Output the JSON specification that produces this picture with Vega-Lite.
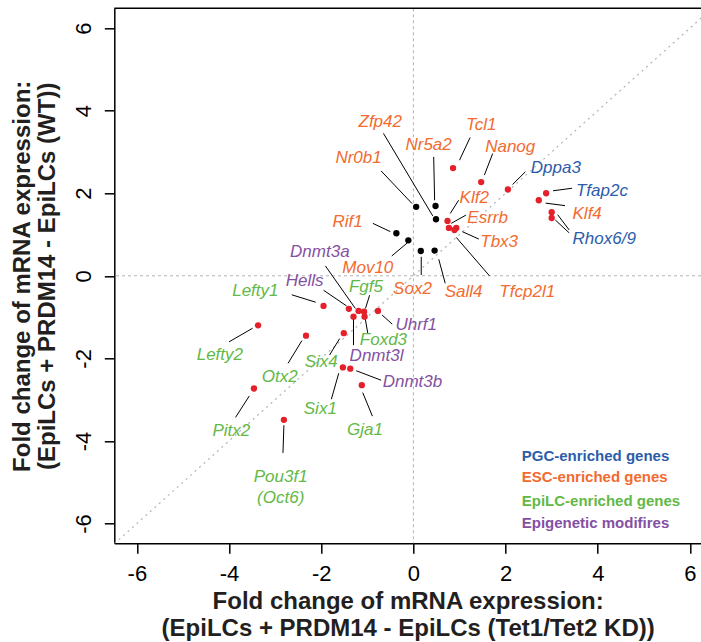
{
  "$schema": "https://vega.github.io/schema/vega-lite/v6.json",
  "width": 586.7,
  "height": 535,
  "autosize": {"type": "none"},
  "padding": {"left": 114.3, "top": 8.3, "right": 0, "bottom": 98.7},
  "background": "white",
  "config": {
    "view": {"stroke": null},
    "font": "Liberation Sans",
    "axis": {
      "grid": false,
      "domainColor": "black",
      "domainWidth": 1.5,
      "tickColor": "black",
      "tickWidth": 1.5,
      "tickSize": 10,
      "labelFont": "Liberation Sans",
      "labelFontSize": 22,
      "labelColor": "black",
      "titleFont": "Liberation Sans",
      "titleFontSize": 24,
      "titleFontWeight": "bold",
      "titleColor": "#231f20"
    }
  },
  "datasets": {
    "refs": [
      {"x": -6.49, "y": -6.49, "x2": 6.48, "y2": 6.48}
    ],
    "points": [
      {"gene": "Tcl1", "x": 0.86, "y": 2.61, "highlight": "yes"},
      {"gene": "Nanog", "x": 1.47, "y": 2.27, "highlight": "yes"},
      {"gene": "Dppa3", "x": 2.05, "y": 2.09, "highlight": "yes"},
      {"gene": "Nr0b1", "x": 0.06, "y": 1.67, "highlight": "no"},
      {"gene": "Nr5a2", "x": 0.48, "y": 1.69, "highlight": "no"},
      {"gene": "Zfp42", "x": 0.49, "y": 1.37, "highlight": "no"},
      {"gene": "Klf2", "x": 0.74, "y": 1.33, "highlight": "yes"},
      {"gene": "Esrrb", "x": 0.77, "y": 1.16, "highlight": "yes"},
      {"gene": "Tbx3", "x": 0.93, "y": 1.16, "highlight": "yes"},
      {"gene": "Tfcp2l1", "x": 0.89, "y": 1.11, "highlight": "yes"},
      {"gene": "Rif1", "x": -0.37, "y": 1.03, "highlight": "no"},
      {"gene": "Mov10", "x": -0.11, "y": 0.86, "highlight": "no"},
      {"gene": "Sox2", "x": 0.16, "y": 0.6, "highlight": "no"},
      {"gene": "Sall4", "x": 0.46, "y": 0.61, "highlight": "no"},
      {"gene": "Tfap2c", "x": 2.88, "y": 2.0, "highlight": "yes"},
      {"gene": "Klf4", "x": 2.72, "y": 1.83, "highlight": "yes"},
      {"gene": "Rhox6", "x": 3.0, "y": 1.54, "highlight": "yes"},
      {"gene": "Rhox9", "x": 3.0, "y": 1.4, "highlight": "yes"},
      {"gene": "Lefty1", "x": -1.95, "y": -0.73, "highlight": "yes"},
      {"gene": "Hells", "x": -1.4, "y": -0.8, "highlight": "yes"},
      {"gene": "Dnmt3a", "x": -1.19, "y": -0.85, "highlight": "yes"},
      {"gene": "Fgf5", "x": -1.07, "y": -0.87, "highlight": "yes"},
      {"gene": "Foxd3", "x": -1.06, "y": -0.99, "highlight": "yes"},
      {"gene": "Dnmt3l", "x": -1.3, "y": -0.99, "highlight": "yes"},
      {"gene": "Uhrf1", "x": -0.77, "y": -0.85, "highlight": "yes"},
      {"gene": "Lefty2", "x": -3.37, "y": -1.2, "highlight": "yes"},
      {"gene": "Otx2", "x": -2.33, "y": -1.45, "highlight": "yes"},
      {"gene": "Six4", "x": -1.51, "y": -1.39, "highlight": "yes"},
      {"gene": "Six1", "x": -1.53, "y": -2.22, "highlight": "yes"},
      {"gene": "Dnmt3b", "x": -1.37, "y": -2.25, "highlight": "yes"},
      {"gene": "Gja1", "x": -1.12, "y": -2.65, "highlight": "yes"},
      {"gene": "Pitx2", "x": -3.46, "y": -2.73, "highlight": "yes"},
      {"gene": "Pou3f1", "x": -2.81, "y": -3.49, "highlight": "yes"}
    ],
    "labels": [
      {"text": "Tcl1", "group": "ESC", "x": 1.47, "y": 3.65},
      {"text": "Nanog", "group": "ESC", "x": 2.1, "y": 3.12},
      {"text": "Dppa3", "group": "PGC", "x": 3.09, "y": 2.6},
      {"text": "Nr5a2", "group": "ESC", "x": 0.33, "y": 3.16},
      {"text": "Zfp42", "group": "ESC", "x": -0.72, "y": 3.73},
      {"text": "Nr0b1", "group": "ESC", "x": -1.19, "y": 2.86},
      {"text": "Klf2", "group": "ESC", "x": 1.32, "y": 1.89},
      {"text": "Esrrb", "group": "ESC", "x": 1.61, "y": 1.39},
      {"text": "Tbx3", "group": "ESC", "x": 1.86, "y": 0.82},
      {"text": "Tfcp2l1", "group": "ESC", "x": 2.47, "y": -0.39},
      {"text": "Rif1", "group": "ESC", "x": -1.43, "y": 1.31},
      {"text": "Mov10", "group": "ESC", "x": -0.99, "y": 0.18},
      {"text": "Sox2", "group": "ESC", "x": -0.02, "y": -0.31},
      {"text": "Sall4", "group": "ESC", "x": 1.09, "y": -0.39},
      {"text": "Tfap2c", "group": "PGC", "x": 4.09, "y": 2.06},
      {"text": "Klf4", "group": "ESC", "x": 3.77, "y": 1.49},
      {"text": "Rhox6/9", "group": "PGC", "x": 4.14, "y": 0.88},
      {"text": "Lefty1", "group": "EpiLC", "x": -3.43, "y": -0.36},
      {"text": "Hells", "group": "Epigenetic", "x": -2.36, "y": -0.13},
      {"text": "Dnmt3a", "group": "Epigenetic", "x": -2.03, "y": 0.57},
      {"text": "Fgf5", "group": "EpiLC", "x": -1.03, "y": -0.27},
      {"text": "Uhrf1", "group": "Epigenetic", "x": 0.06, "y": -1.19},
      {"text": "Foxd3", "group": "EpiLC", "x": -0.65, "y": -1.55},
      {"text": "Dnmt3l", "group": "Epigenetic", "x": -0.8, "y": -1.95},
      {"text": "Six4", "group": "EpiLC", "x": -2.0, "y": -2.08},
      {"text": "Dnmt3b", "group": "Epigenetic", "x": -0.02, "y": -2.57},
      {"text": "Otx2", "group": "EpiLC", "x": -2.9, "y": -2.45},
      {"text": "Lefty2", "group": "EpiLC", "x": -4.2, "y": -1.92},
      {"text": "Six1", "group": "EpiLC", "x": -2.02, "y": -3.23},
      {"text": "Gja1", "group": "EpiLC", "x": -1.05, "y": -3.74},
      {"text": "Pitx2", "group": "EpiLC", "x": -3.95, "y": -3.75},
      {"text": "Pou3f1\n(Oct6)", "group": "EpiLC", "x": -2.88, "y": -4.87}
    ],
    "leaders": [
      {"gene": "Tcl1", "x": 1.0, "y": 2.8, "x2": 1.23, "y2": 3.35},
      {"gene": "Nanog", "x": 1.72, "y": 2.96, "x2": 1.54, "y2": 2.44},
      {"gene": "Dppa3", "x": 2.15, "y": 2.21, "x2": 2.43, "y2": 2.52},
      {"gene": "Nr5a2", "x": 0.44, "y": 2.88, "x2": 0.46, "y2": 1.83},
      {"gene": "Zfp42", "x": -0.65, "y": 3.45, "x2": 0.42, "y2": 1.45},
      {"gene": "Nr0b1", "x": -0.7, "y": 2.54, "x2": -0.03, "y2": 1.75},
      {"gene": "Klf2", "x": 0.8, "y": 1.51, "x2": 0.98, "y2": 1.83},
      {"gene": "Esrrb", "x": 0.82, "y": 1.27, "x2": 1.14, "y2": 1.47},
      {"gene": "Tbx3", "x": 1.06, "y": 1.07, "x2": 1.42, "y2": 0.89},
      {"gene": "Tfcp2l1", "x": 0.93, "y": 0.93, "x2": 1.65, "y2": 0.0},
      {"gene": "Rif1", "x": -0.88, "y": 1.27, "x2": -0.5, "y2": 1.07},
      {"gene": "Mov10", "x": -0.47, "y": 0.48, "x2": -0.13, "y2": 0.8},
      {"gene": "Sox2", "x": 0.17, "y": 0.46, "x2": 0.17, "y2": 0.02},
      {"gene": "Sall4", "x": 0.55, "y": 0.4, "x2": 0.69, "y2": -0.18},
      {"gene": "Tfap2c", "x": 3.03, "y": 2.06, "x2": 3.44, "y2": 2.12},
      {"gene": "Klf4", "x": 2.87, "y": 1.76, "x2": 3.29, "y2": 1.7},
      {"gene": "Rhox6", "x": 3.13, "y": 1.48, "x2": 3.38, "y2": 1.11},
      {"gene": "Rhox9", "x": 3.08, "y": 1.35, "x2": 3.38, "y2": 1.04},
      {"gene": "Lefty1", "x": -2.64, "y": -0.46, "x2": -2.12, "y2": -0.64},
      {"gene": "Hells", "x": -1.95, "y": -0.35, "x2": -1.45, "y2": -0.73},
      {"gene": "Dnmt3a", "x": -1.91, "y": 0.24, "x2": -1.26, "y2": -0.79},
      {"gene": "Fgf5", "x": -0.95, "y": -0.47, "x2": -1.04, "y2": -0.79},
      {"gene": "Uhrf1", "x": -0.68, "y": -0.95, "x2": -0.46, "y2": -1.17},
      {"gene": "Foxd3", "x": -1.05, "y": -1.01, "x2": -0.99, "y2": -1.39},
      {"gene": "Dnmt3l", "x": -1.3, "y": -1.03, "x2": -1.3, "y2": -1.68},
      {"gene": "Six4", "x": -1.82, "y": -1.92, "x2": -1.6, "y2": -1.52},
      {"gene": "Dnmt3b", "x": -1.24, "y": -2.3, "x2": -0.7, "y2": -2.53},
      {"gene": "Otx2", "x": -2.72, "y": -2.12, "x2": -2.42, "y2": -1.57},
      {"gene": "Lefty2", "x": -4.0, "y": -1.6, "x2": -3.49, "y2": -1.27},
      {"gene": "Six1", "x": -1.62, "y": -2.36, "x2": -1.78, "y2": -2.99},
      {"gene": "Gja1", "x": -1.1, "y": -2.83, "x2": -0.89, "y2": -3.4},
      {"gene": "Pitx2", "x": -3.56, "y": -2.91, "x2": -3.86, "y2": -3.43},
      {"gene": "Pou3f1", "x": -2.81, "y": -3.62, "x2": -2.83, "y2": -4.29}
    ],
    "legend": [
      {"text": "PGC-enriched genes", "group": "PGC", "x": 2.35, "y": -4.36},
      {"text": "ESC-enriched genes", "group": "ESC", "x": 2.35, "y": -4.88},
      {"text": "EpiLC-enriched genes", "group": "EpiLC", "x": 2.35, "y": -5.45},
      {"text": "Epigenetic modifires", "group": "Epigenetic", "x": 2.35, "y": -6.0}
    ]
  },
  "layer": [
    {
      "data": {"name": "refs"},
      "mark": {"type": "rule", "color": "#b3b3b3", "strokeWidth": 1, "strokeDash": [3, 3]},
      "encoding": {"y": {"datum": 0, "type": "quantitative"}}
    },
    {
      "data": {"name": "refs"},
      "mark": {"type": "rule", "color": "#b3b3b3", "strokeWidth": 1, "strokeDash": [3, 3]},
      "encoding": {"x": {"datum": 0, "type": "quantitative"}}
    },
    {
      "data": {"name": "refs"},
      "mark": {"type": "rule", "color": "#b3b3b3", "strokeWidth": 1.2, "strokeDash": [2, 4], "clip": true},
      "encoding": {
        "x": {"field": "x", "type": "quantitative"},
        "y": {"field": "y", "type": "quantitative"},
        "x2": {"field": "x2"},
        "y2": {"field": "y2"}
      }
    },
    {
      "data": {"name": "refs"},
      "mark": {"type": "rule", "color": "black", "strokeWidth": 1.5},
      "encoding": {"y": {"datum": 6.48, "type": "quantitative"}}
    },
    {
      "data": {"name": "leaders"},
      "mark": {"type": "rule", "color": "black", "strokeWidth": 1},
      "encoding": {
        "x": {"field": "x", "type": "quantitative"},
        "y": {"field": "y", "type": "quantitative"},
        "x2": {"field": "x2"},
        "y2": {"field": "y2"}
      }
    },
    {
      "data": {"name": "points"},
      "mark": {"type": "circle", "size": 40, "opacity": 1},
      "encoding": {
        "x": {
          "field": "x", "type": "quantitative",
          "scale": {"domain": [-6.49, 6.24], "nice": false, "zero": false},
          "axis": {
            "values": [-6, -4, -2, 0, 2, 4, 6],
            "labelExpr": "'' + datum.value",
            "labelPadding": 10,
            "titlePadding": 5,
            "titleLineHeight": 27,
            "title": ["Fold change of mRNA expression:", "(EpiLCs + PRDM14 - EpiLCs (Tet1/Tet2 KD))"]
          }
        },
        "y": {
          "field": "y", "type": "quantitative",
          "scale": {"domain": [-6.48, 6.48], "nice": false, "zero": false},
          "axis": {
            "values": [-6, -4, -2, 0, 2, 4, 6],
            "labelExpr": "'' + datum.value",
            "labelAngle": -90,
            "labelAlign": "center",
            "labelBaseline": "bottom",
            "labelPadding": 9,
            "titlePadding": 13,
            "titleLineHeight": 25,
            "title": ["Fold change of mRNA expression:", "(EpiLCs + PRDM14 - EpiLCs (WT))"]
          }
        },
        "fill": {
          "field": "highlight", "type": "nominal",
          "scale": {"domain": ["yes", "no"], "range": ["#e4202a", "#000000"]},
          "legend": null
        }
      }
    },
    {
      "data": {"name": "labels"},
      "mark": {"type": "text", "font": "Liberation Sans", "fontSize": 17, "fontStyle": "italic", "align": "center", "baseline": "middle", "lineBreak": "\n", "lineHeight": 21},
      "encoding": {
        "x": {"field": "x", "type": "quantitative"},
        "y": {"field": "y", "type": "quantitative"},
        "text": {"field": "text"},
        "color": {
          "field": "group", "type": "nominal",
          "scale": {"domain": ["PGC", "ESC", "EpiLC", "Epigenetic"], "range": ["#2d5caa", "#f26b2f", "#62b946", "#8450a3"]},
          "legend": null
        }
      }
    },
    {
      "data": {"name": "legend"},
      "mark": {"type": "text", "font": "Liberation Sans", "fontSize": 15, "fontWeight": "bold", "align": "left", "baseline": "middle"},
      "encoding": {
        "x": {"field": "x", "type": "quantitative"},
        "y": {"field": "y", "type": "quantitative"},
        "text": {"field": "text"},
        "color": {"field": "group", "type": "nominal", "legend": null}
      }
    }
  ]
}
